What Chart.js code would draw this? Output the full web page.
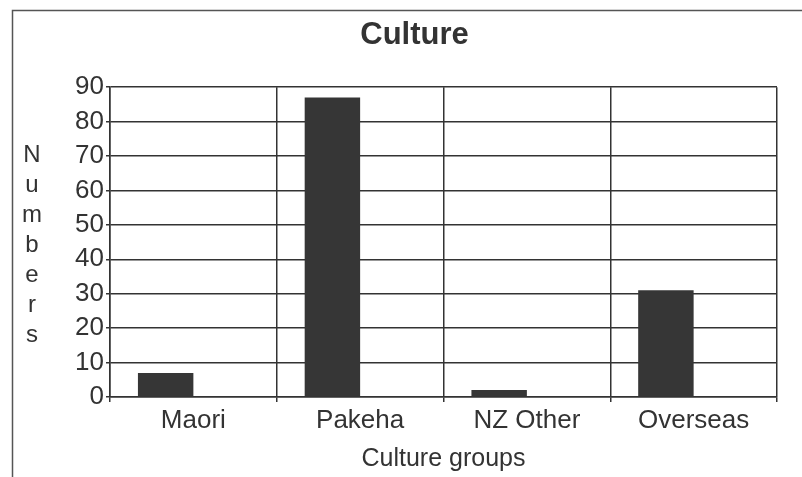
<!DOCTYPE html>
<html>
<head>
<meta charset="utf-8">
<script src="https://cdn.jsdelivr.net/npm/chart.js@4"></script>
<style>
  body { margin: 0; background: #fff; }
  #wrap { width: 802px; height: 477px; position: relative; }
</style>
</head>
<body>
<div id="wrap"><canvas id="cultureChart"></canvas></div>
<script>
const categories = ['Maori', 'Pakeha', 'NZ Other', 'Overseas'];
const numbers = [7, 87, 2, 31];
const emptySeries = [null, null, null, null];
const yTicks = [0, 10, 20, 30, 40, 50, 60, 70, 80, 90];
const chartTitle = 'Culture';
const xTitle = 'Culture groups';
const yTitle = 'Numbers';

const ink = '#333';
const fontFamily = 'Arial, "Liberation Sans", sans-serif';

// frame round the whole chart + stacked letters for the y title
const decorations = {
    id: 'decorations',
    beforeDraw(chart) {
        const ctx = chart.ctx;
        ctx.save();
        ctx.strokeStyle = '#555';
        ctx.lineWidth = 1.5;
        ctx.strokeRect(12.5, 10.5, 820, 500);
        ctx.restore();
    },
    afterDraw(chart) {
        const ctx = chart.ctx;
        ctx.save();
        ctx.fillStyle = ink;
        ctx.font = '24px ' + fontFamily;
        ctx.textAlign = 'center';
        ctx.textBaseline = 'alphabetic';
        yTitle.split('').forEach((ch, i) => ctx.fillText(ch, 32, 162 + i * 30));
        ctx.restore();
    }
};

const ctx = document.getElementById('cultureChart').getContext('2d');
new Chart(ctx, {
    type: 'bar',
    data: {
        labels: categories,
        datasets: [
            { label: 'Numbers', data: numbers, backgroundColor: '#363636', borderWidth: 0 },
            { label: '', data: emptySeries, backgroundColor: '#363636', borderWidth: 0 }
        ]
    },
    options: {
        responsive: true,
        maintainAspectRatio: false,
        animation: false,
        categoryPercentage: 0.665,
        barPercentage: 1,
        layout: { padding: { left: 52, right: 25, top: 0, bottom: 0 } },
        plugins: {
            legend: { display: false },
            tooltip: { enabled: false },
            title: {
                display: true,
                text: chartTitle,
                color: ink,
                font: { family: fontFamily, size: 31, weight: 'bold' },
                padding: { top: 17, bottom: 33 }
            }
        },
        scales: {
            x: {
                grid: { color: ink, lineWidth: 1.5, tickLength: 5, offset: true },
                border: { color: ink, width: 1.5 },
                ticks: { color: ink, padding: 3, font: { family: fontFamily, size: 26 } },
                title: { display: true, text: xTitle, color: ink, padding: { top: 0, bottom: 3 },
                         font: { family: fontFamily, size: 25 } },
                afterFit: scale => { scale.height = 80; }
            },
            y: {
                min: 0,
                max: 90,
                afterBuildTicks: scale => { scale.ticks = yTicks.map(v => ({ value: v })); },
                grid: { color: ink, lineWidth: 1.5, tickLength: 4 },
                border: { color: ink, width: 1.5 },
                ticks: { color: ink, padding: 2, font: { family: fontFamily, size: 26 } },
                afterFit: scale => { scale.width = 58; }
            }
        }
    },
    plugins: [decorations]
});
</script>
</body>
</html>
